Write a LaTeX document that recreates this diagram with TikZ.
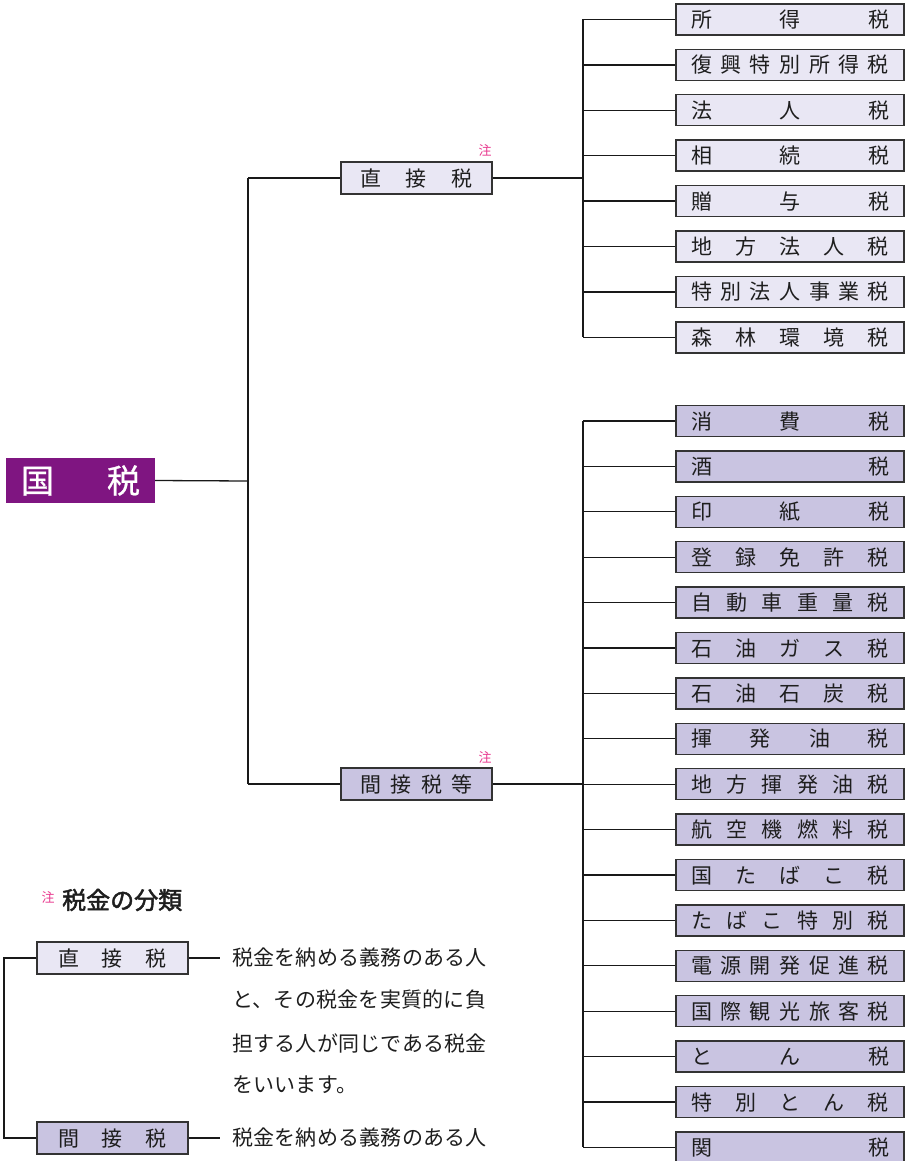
\documentclass[tikz,border=0pt]{standalone}
\usepackage{fontspec}
\setmainfont{Noto Sans CJK JP}
\newfontfamily\bodyfont[LetterSpace=1.2]{Noto Sans CJK JP}
\newfontfamily\boldcjk[FakeBold=2]{Noto Sans CJK JP}
\newfontfamily\rootfont[FakeBold=0.8]{Noto Sans CJK JP}
\definecolor{rootc}{HTML}{7F1581}
\definecolor{dfill}{HTML}{E9E7F4}
\definecolor{ifill}{HTML}{C9C4E1}
\definecolor{edgec}{HTML}{333333}
\definecolor{notec}{HTML}{E8388E}
\definecolor{txtc}{HTML}{1E1E1E}
\makeatletter
\def\spx#1#2{\makebox[#1][s]{\spx@a#2\relax}}
\def\spx@a#1#2{#1\ifx\relax#2\else\hfill\expandafter\spx@a\expandafter#2\fi}
\makeatother
\newcommand\rw{198pt}
\def\spxr#1{\spx{\rw}{#1}}
\tikzset{
  conn/.style={line width=1.3pt, draw=black!90},
  basebox/.style={draw=edgec, line width=1.4pt, inner sep=0pt, text=txtc,
    font=\fontsize{21}{21}\selectfont, text height=18.5pt, text depth=2.5pt},
  rbox/.style={basebox, minimum width=228pt, minimum height=31pt},
  mbox/.style={basebox, minimum width=151pt, minimum height=32pt},
  dfl/.style={fill=dfill},
  ifl/.style={fill=ifill},
  notemark/.style={text=notec, font=\fontsize{13}{13}\selectfont, inner sep=0pt},
  bodytext/.style={anchor=west, inner sep=0pt, text=txtc, font=\bodyfont\fontsize{21}{21}\selectfont},
}
\begin{document}
\begin{tikzpicture}[x=1pt,y=-1pt]
\useasboundingbox (0,0) rectangle (908,1161);
% root
\node[fill=rootc, minimum width=149pt, minimum height=45pt, inner sep=0pt, text=white,
  font=\rootfont\fontsize{33}{33}\selectfont, text height=29pt, text depth=4pt] (root) at (80.5,480.5) {\spx{119pt}{国税}};
% middle boxes
\node[mbox, dfl] (dmid) at (416.5,178) {\spx{112pt}{直接税}};
\node[mbox, ifl] (imid) at (416.5,784) {\spx{112pt}{間接税等}};
\node[notemark] (n1) at (485,150) {注};
\node[notemark] (n2) at (485,757) {注};
% direct tax items
\foreach \t [count=\i from 0] in {所得税,復興特別所得税,法人税,相続税,贈与税,地方法人税,特別法人事業税,森林環境税}{
  \node[rbox, dfl] (d\i) at (790,{19.5+45.4*\i}) {\expandafter\spxr\expandafter{\t}};
}
% indirect tax items
\foreach \t [count=\i from 0] in {消費税,酒税,印紙税,登録免許税,自動車重量税,石油ガス税,石油石炭税,揮発油税,地方揮発油税,航空機燃料税,国たばこ税,たばこ特別税,電源開発促進税,国際観光旅客税,とん税,特別とん税,関税}{
  \node[rbox, ifl] (i\i) at (790,{421+45.4*\i}) {\expandafter\spxr\expandafter{\t}};
}
% junctions
\coordinate (ja) at (248,481);
\coordinate (jd) at (583,178);
\coordinate (ji) at (583,784);
\draw[conn] (root.east) -- (ja);
\draw[conn] (dmid.west -| ja) -- (imid.west -| ja);
\draw[conn] (dmid.west -| ja) -- (dmid.west);
\draw[conn] (imid.west -| ja) -- (imid.west);
\draw[conn] (dmid.east) -- (jd);
\draw[conn] (imid.east) -- (ji);
\draw[conn] (d0.west -| jd) -- (d7.west -| jd);
\draw[conn] (i0.west -| ji) -- (i16.west -| ji);
\foreach \i in {0,...,7}{\draw[conn] (d\i.west -| jd) -- (d\i.west);}
\foreach \i in {0,...,16}{\draw[conn] (i\i.west -| ji) -- (i\i.west);}
% legend
\node[notemark] (n3) at (48,897) {注};
\node[anchor=west, inner sep=0pt, text=txtc, font=\boldcjk\fontsize{24}{24}\selectfont] (lt) at (62,900) {税金の分類};
\node[mbox, dfl] (lg1) at (112.5,958) {\spx{108pt}{直接税}};
\node[mbox, ifl] (lg2) at (112.5,1138) {\spx{108pt}{間接税}};
\coordinate (jl) at (4,958);
\draw[conn] (lg1.west) -- (lg1.west -| jl) -- (lg2.west -| jl) -- (lg2.west);
\node[bodytext] (t1) at (232,958) {税金を納める義務のある人};
\node[bodytext] (t2) at (232,1000) {と、その税金を実質的に負};
\node[bodytext] (t3) at (232,1043) {担する人が同じである税金};
\node[bodytext] (t4) at (232,1085) {をいいます。};
\node[bodytext] (t5) at (232,1138) {税金を納める義務のある人};
\draw[conn] (lg1.east) -- ([xshift=-12pt]t1.west);
\draw[conn] (lg2.east) -- ([xshift=-12pt]t5.west);
\end{tikzpicture}
\end{document}
